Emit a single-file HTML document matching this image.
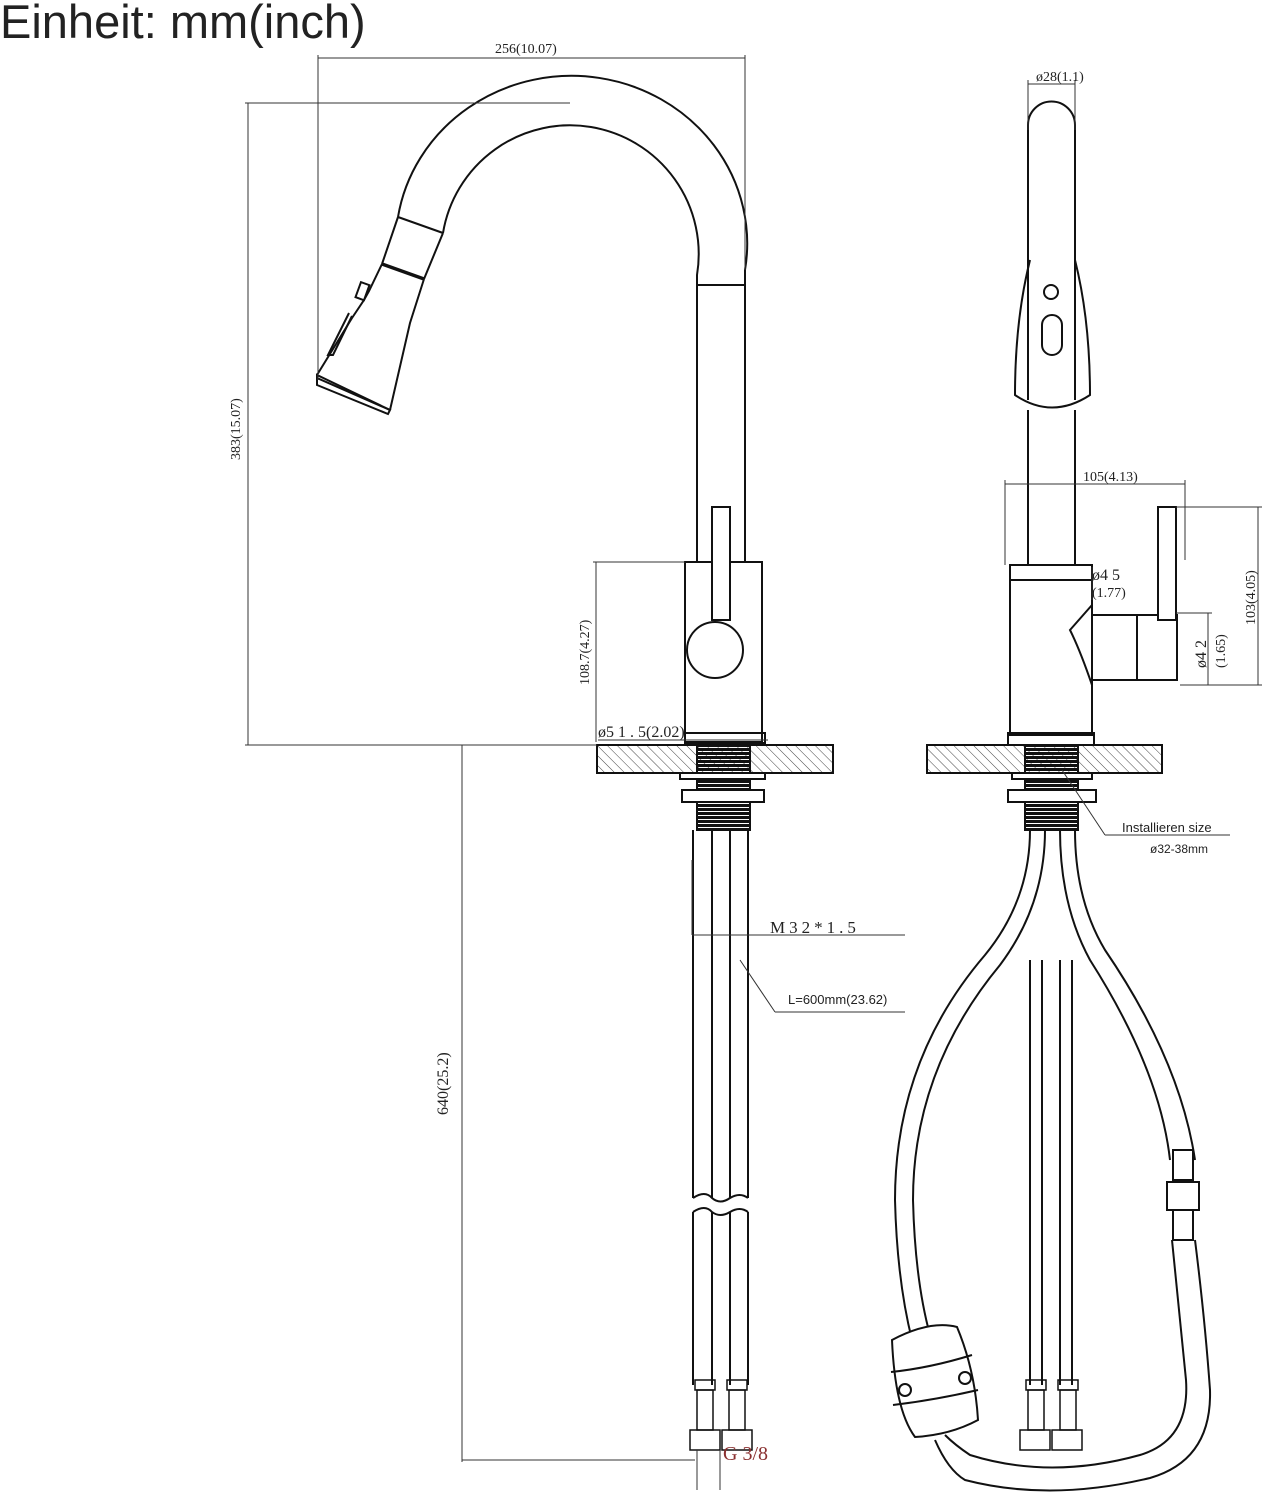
<!DOCTYPE html>
<html><head><meta charset="utf-8"><style>
html,body{margin:0;padding:0;background:#fff;width:1266px;height:1500px;overflow:hidden}
svg{display:block}
text{font-family:"Liberation Serif",serif;fill:#222}
</style></head><body>
<svg width="1266" height="1500" viewBox="0 0 1266 1500" xmlns="http://www.w3.org/2000/svg">
<defs>
<pattern id="h" width="7" height="7" patternUnits="userSpaceOnUse" patternTransform="rotate(-45)">
<line x1="0" y1="0" x2="0" y2="7" stroke="#444" stroke-width="1"/></pattern>
<pattern id="th" width="4" height="4" patternUnits="userSpaceOnUse">
<rect width="4" height="3" fill="#111"/></pattern>
</defs>
<text x="0" y="38" style="font-family:'Liberation Sans',sans-serif" font-size="47" fill="#111">Einheit: mm(inch)</text>

<g fill="none" stroke="#111" stroke-width="2">
<!-- LEFT VIEW gooseneck -->
<path d="M745 285 L745 270 A175 167 0 0 0 398 217"/>
<path d="M697 285 L697 275 A125 125 0 0 0 443 233"/>
<line x1="697" y1="285" x2="745" y2="285"/>
<line x1="697" y1="285" x2="697" y2="562"/>
<line x1="745" y1="285" x2="745" y2="562"/>
<!-- spray head -->
<line x1="398" y1="217" x2="443" y2="233"/>
<line x1="398" y1="217" x2="382" y2="264"/>
<line x1="443" y1="233" x2="424" y2="279"/>
<line x1="382" y1="264" x2="424" y2="279" stroke-width="3.5"/>
<path d="M382 264 L369 291 L364 300 L356 312 L352 318 L317 375"/>
<rect x="358" y="283" width="9" height="16" transform="rotate(20 362 291)"/>
<path d="M349 313 L328 355 L333 355 L352 316"/>
<path d="M424 279 L410 323 L390 410"/>
<path d="M317 375 L317 385 L388 414 L390 410 Z"/>
<line x1="317" y1="378" x2="390" y2="410"/>
<!-- body -->
<rect x="685" y="562" width="77" height="180"/>
<rect x="712" y="507" width="18" height="113" fill="#fff"/>
<circle cx="715" cy="650" r="28" fill="#fff"/>
<rect x="685" y="733" width="80" height="10"/>
<!-- counter -->
<rect x="597" y="745" width="236" height="28" fill="url(#h)"/>
<rect x="697" y="745" width="53" height="85" fill="url(#th)"/>
<rect x="680" y="773" width="85" height="6" fill="#fff"/>
<rect x="682" y="790" width="82" height="12" fill="#fff"/>
<!-- hoses -->
<line x1="693" y1="830" x2="693" y2="1198"/><line x1="748" y1="830" x2="748" y2="1198"/>
<line x1="712" y1="830" x2="712" y2="1198"/><line x1="730" y1="830" x2="730" y2="1198"/>
<path d="M693 1198 Q705 1190 712 1198 Q720 1205 730 1198 Q740 1192 748 1198"/>
<path d="M693 1212 Q705 1204 712 1212 Q720 1218 730 1212 Q740 1206 748 1212"/>
<line x1="693" y1="1212" x2="693" y2="1385"/><line x1="748" y1="1212" x2="748" y2="1385"/>
<line x1="712" y1="1212" x2="712" y2="1385"/><line x1="730" y1="1212" x2="730" y2="1385"/>
<rect x="695" y="1380" width="20" height="10" stroke-width="1.5"/>
<rect x="727" y="1380" width="20" height="10" stroke-width="1.5"/>
<rect x="697" y="1390" width="16" height="40" stroke-width="1.5"/>
<rect x="729" y="1390" width="16" height="40" stroke-width="1.5"/>
<rect x="690" y="1430" width="30" height="20" stroke-width="1.5"/>
<rect x="722" y="1430" width="30" height="20" stroke-width="1.5"/>

<!-- RIGHT VIEW -->
<path d="M1028 400 L1028 125 A23 23 0 0 1 1075 125 L1075 400"/>
<path d="M1030 260 Q1015 320 1015 395 Q1052 420 1090 395 Q1090 320 1075 260"/>
<circle cx="1051" cy="292" r="7"/>
<rect x="1042" y="315" width="20" height="40" rx="10"/>
<line x1="1028" y1="410" x2="1028" y2="565"/><line x1="1075" y1="410" x2="1075" y2="565"/>
<rect x="1010" y="565" width="82" height="170"/>
<line x1="1010" y1="580" x2="1092" y2="580"/>
<path d="M1092 605 L1070 630 Q1080 650 1092 685"/>
<rect x="1092" y="615" width="45" height="65"/>
<rect x="1137" y="615" width="40" height="65"/>
<rect x="1158" y="507" width="18" height="113" fill="#fff"/>
<rect x="1008" y="733" width="86" height="12"/>
<rect x="927" y="745" width="235" height="28" fill="url(#h)"/>
<rect x="1025" y="745" width="53" height="85" fill="url(#th)"/>
<rect x="1012" y="773" width="80" height="6" fill="#fff"/>
<rect x="1008" y="790" width="88" height="12" fill="#fff"/>
<!-- hoses right -->
<path d="M1030 830 Q1030 900 985 955 Q895 1060 895 1200 Q897 1280 912 1340"/>
<path d="M1045 830 Q1045 905 1000 965 Q913 1070 913 1200 Q915 1280 930 1335"/>
<path d="M1060 830 Q1060 905 1090 960 Q1160 1070 1170 1160"/>
<path d="M1075 830 Q1075 900 1105 950 Q1180 1060 1195 1160"/>
<path d="M1172 1240 Q1180 1320 1186 1380 Q1190 1440 1140 1455 Q1050 1480 970 1455 Q955 1445 945 1435"/>
<path d="M1195 1240 Q1205 1320 1210 1390 Q1212 1460 1150 1478 Q1050 1502 965 1480 Q948 1470 935 1440"/>
<line x1="1030" y1="960" x2="1030" y2="1385"/><line x1="1042" y1="960" x2="1042" y2="1385"/>
<line x1="1060" y1="960" x2="1060" y2="1385"/><line x1="1072" y1="960" x2="1072" y2="1385"/>
<rect x="1026" y="1380" width="20" height="10" stroke-width="1.5"/>
<rect x="1058" y="1380" width="20" height="10" stroke-width="1.5"/>
<rect x="1028" y="1390" width="16" height="40" stroke-width="1.5"/>
<rect x="1060" y="1390" width="16" height="40" stroke-width="1.5"/>
<rect x="1020" y="1430" width="30" height="20" stroke-width="1.5"/>
<rect x="1052" y="1430" width="30" height="20" stroke-width="1.5"/>
<rect x="1173" y="1150" width="20" height="30" fill="#fff"/>
<rect x="1167" y="1182" width="32" height="28" fill="#fff"/>
<rect x="1173" y="1210" width="20" height="30" fill="#fff"/>
<path d="M892 1340 Q930 1320 957 1327 Q975 1370 978 1420 Q950 1435 915 1437 Q895 1410 892 1340 Z" fill="#fff"/>
<path d="M891 1372 Q930 1368 972 1355"/>
<path d="M893 1405 Q935 1400 978 1390"/>
<circle cx="905" cy="1390" r="6"/><circle cx="965" cy="1378" r="6"/>
</g>

<!-- dimensions -->
<g stroke="#333" stroke-width="1" fill="none">
<line x1="318" y1="55" x2="318" y2="380"/><line x1="745" y1="55" x2="745" y2="270"/>
<line x1="318" y1="58" x2="745" y2="58"/>
<line x1="245" y1="103" x2="570" y2="103"/><line x1="245" y1="745" x2="597" y2="745"/>
<line x1="248" y1="103" x2="248" y2="745"/>
<line x1="593" y1="562" x2="685" y2="562"/><line x1="596" y1="562" x2="596" y2="742"/>
<line x1="598" y1="740" x2="768" y2="740"/>
<line x1="462" y1="745" x2="462" y2="1462"/><line x1="462" y1="1460" x2="695" y2="1460"/>
<line x1="692" y1="860" x2="692" y2="935"/><line x1="692" y1="935" x2="905" y2="935"/>
<line x1="740" y1="960" x2="775" y2="1012"/><line x1="775" y1="1012" x2="905" y2="1012"/>
<line x1="697" y1="1450" x2="697" y2="1490"/><line x1="720" y1="1450" x2="720" y2="1490"/>
<line x1="1028" y1="80" x2="1028" y2="130"/><line x1="1075" y1="80" x2="1075" y2="130"/>
<line x1="1028" y1="84" x2="1075" y2="84"/>
<line x1="1005" y1="480" x2="1005" y2="565"/><line x1="1185" y1="480" x2="1185" y2="560"/>
<line x1="1005" y1="484" x2="1185" y2="484"/>
<line x1="1176" y1="507" x2="1262" y2="507"/><line x1="1180" y1="685" x2="1262" y2="685"/>
<line x1="1258" y1="507" x2="1258" y2="685"/>
<line x1="1176" y1="613" x2="1212" y2="613"/><line x1="1208" y1="613" x2="1208" y2="685"/>
<line x1="1092" y1="567" x2="1092" y2="600"/>
<line x1="1062" y1="770" x2="1105" y2="835"/><line x1="1105" y1="835" x2="1230" y2="835"/>
</g>
<g font-size="14">
<text x="495" y="53">256(10.07)</text>
<text transform="translate(240 460) rotate(-90)">383(15.07)</text>
<text transform="translate(589 685) rotate(-90)">108.7(4.27)</text>
<text x="598" y="737" font-size="16">ø5 1 . 5(2.02)</text>
<text transform="translate(448 1115) rotate(-90)" font-size="16">640(25.2)</text>
<text x="770" y="933" font-size="17" letter-spacing="4">M32*1.5</text>
<text x="788" y="1004" style="font-family:'Liberation Sans',sans-serif" font-size="13">L=600mm(23.62)</text>
<text x="723" y="1460" font-size="20" style="fill:#8a3030">G 3/8</text>
<text x="1036" y="81">ø28(1.1)</text>
<text x="1083" y="481">105(4.13)</text>
<text x="1092" y="580" font-size="16">ø4 5</text>
<text x="1092" y="597">(1.77)</text>
<text transform="translate(1255 625) rotate(-90)">103(4.05)</text>
<text transform="translate(1206 668) rotate(-90)" font-size="16">ø4 2</text>
<text transform="translate(1225 668) rotate(-90)">(1.65)</text>
<text x="1122" y="832" style="font-family:'Liberation Sans',sans-serif" font-size="13">Installieren size</text>
<text x="1150" y="853" style="font-family:'Liberation Sans',sans-serif" font-size="12">ø32-38mm</text>
</g>
</svg>
</body></html>
